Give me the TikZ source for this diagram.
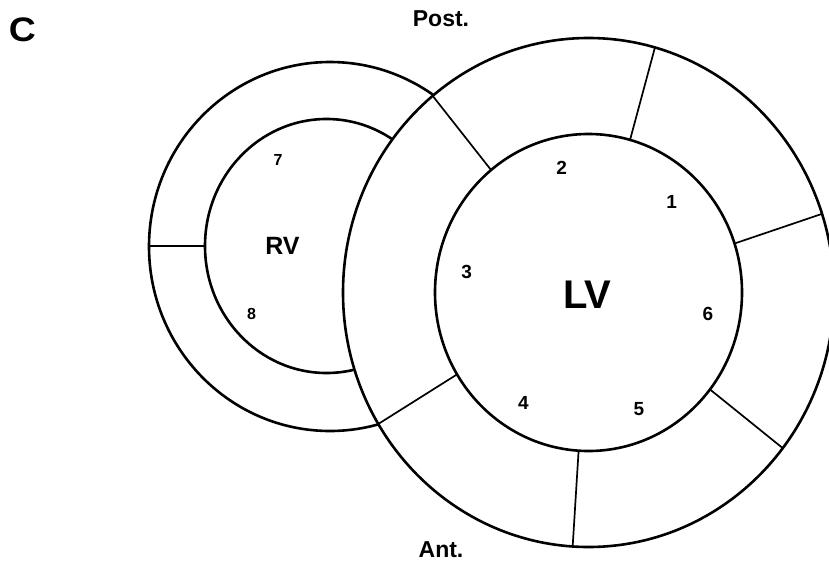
\documentclass[tikz,border=0pt]{standalone}
\usepackage{fontspec}
\setmainfont{Liberation Sans}
\begin{document}
\begin{tikzpicture}[x=1pt,y=-1pt,
  wall/.style={line width=2.6pt},
  divider/.style={line width=1.7pt},
  lbl/.style={inner sep=0pt,anchor=center,font=\bfseries},
  seg/.style={lbl,font=\bfseries\fontsize{19}{21}\selectfont},
  rvseg/.style={lbl,font=\bfseries\fontsize{16}{18}\selectfont}]
\useasboundingbox (0,0) rectangle (829,565);
\clip (0,0) rectangle (829,565);
\fill[white] (0,0) rectangle (829,565);
% centres
\coordinate (lvc) at (588.5,292.5);
\coordinate (rvc) at (330,246.5);
% RV
\draw[wall] (330,246.5) ellipse [x radius=181, y radius=184.5];
\draw[wall] (326.5,246) ellipse [x radius=121.5, y radius=127];
\coordinate (rvo) at (149,246);
\coordinate (rvi) at (205,246);
\draw[divider] (rvo) -- (rvi);
% LV
\draw[wall,fill=white] (lvc) ellipse [x radius=245.5, y radius=254.5];
\draw[wall] (lvc) ellipse [x radius=153.5, y radius=158.5];
% radial dividers (angles in math orientation)
\foreach \a/\n in {129.4/a,74.3/b,18/c,-37.7/d,-93.7/e,211.1/f}{
  \coordinate (i\n) at ({588.5+153.5*cos(\a)},{292.5-158.5*sin(\a)});
  \coordinate (o\n) at ({588.5+245.5*cos(\a)},{292.5-254.5*sin(\a)});
  \draw[divider] (i\n) -- (o\n);
}
% labels
\node[lbl,font=\bfseries\fontsize{34}{36}\selectfont,xscale=1.1,transform shape] (tC) at (22.5,30) {C};
\node[lbl,font=\bfseries\fontsize{23}{25}\selectfont] (tPost) at (441,18.5) {Post.};
\node[lbl,font=\bfseries\fontsize{23}{25}\selectfont] (tAnt) at (441,550) {Ant.};
\node[lbl,font=\bfseries\fontsize{25}{27}\selectfont] (tRV) at (282.5,246) {RV};
\node[lbl,font=\bfseries\fontsize{40}{42}\selectfont] (tLV) at (587.5,294.5) {LV};
\node[rvseg] (s7) at (278,159.5) {7};
\node[rvseg] (s8) at (251.5,313.5) {8};
\node[seg] (s1) at (671.7,202) {1};
\node[seg] (s2) at (561.7,168) {2};
\node[seg] (s3) at (466.7,272) {3};
\node[seg] (s4) at (523.5,402.5) {4};
\node[seg] (s5) at (639,409.5) {5};
\node[seg] (s6) at (708,314) {6};
\end{tikzpicture}
\end{document}
